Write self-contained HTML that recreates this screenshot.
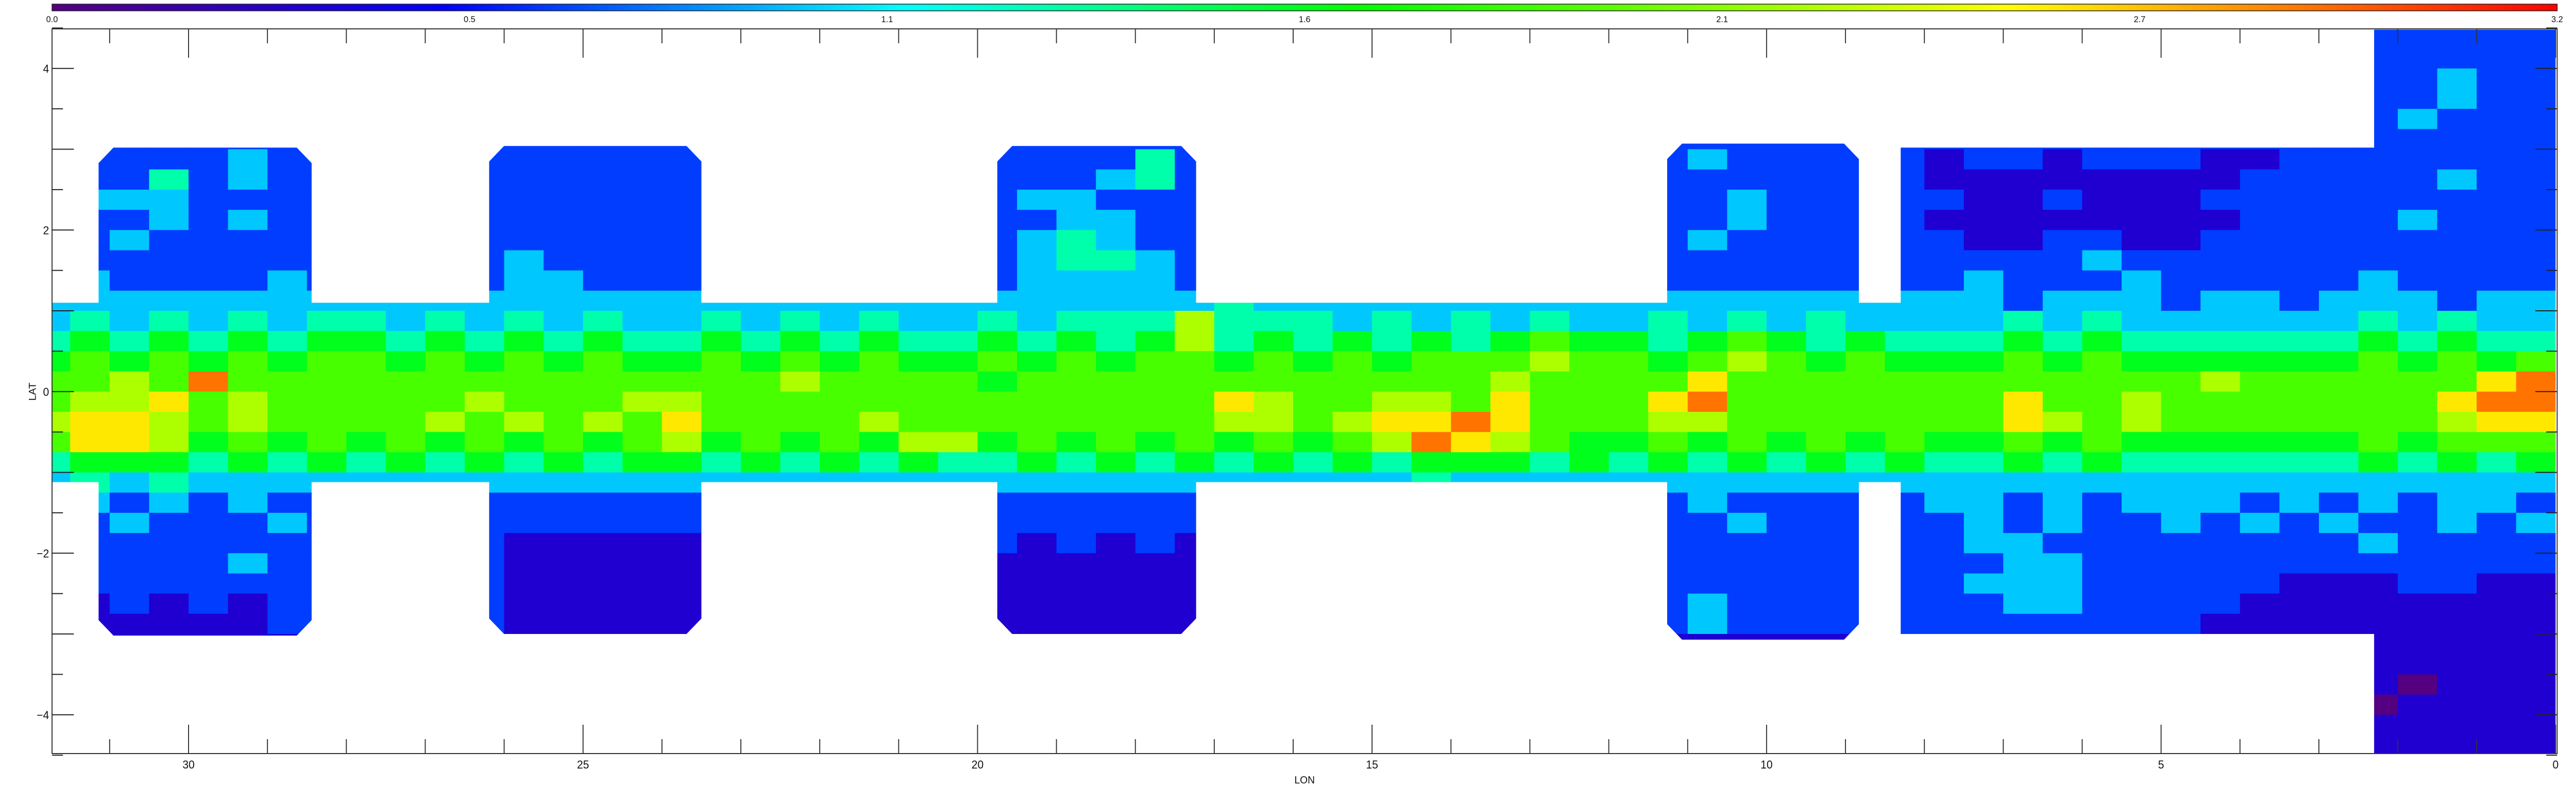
<!DOCTYPE html>
<html><head><meta charset="utf-8"><title>Extinction map LON/LAT</title>
<style>
html,body{margin:0;padding:0;background:#fff;overflow:hidden;width:100%;height:100%;}
svg{display:block;position:absolute;left:0;top:0;width:100vw;height:100vh;font-family:"Liberation Sans",sans-serif;}
</style></head>
<body>
<svg id="chart" viewBox="0 0 5197 1523" preserveAspectRatio="none" xmlns="http://www.w3.org/2000/svg">
<defs>
<linearGradient id="cbgrad" x1="0" x2="1" y1="0" y2="0"></linearGradient>
<clipPath id="footclip"></clipPath>
</defs>
<g id="colorbar"></g>
<g id="heat" clip-path="url(#footclip)"></g>
<g id="axes"></g>
</svg>
<script>
// ---- data ----
const cbTicks = ["0.0","0.5","1.1","1.6","2.1","2.7","3.2"];
const xTickLabels = [30,25,20,15,10,5,0];
const yTickLabels = [4,2,0,-2,-4];
const lonStart = 32, lonStep = 0.5;   // grid columns (lon decreasing to the right)
const latStart = 4.5, latStep = 0.25; // grid rows (lat decreasing downward)
const valueUnit = 0.32;               // digit -> extinction value
// survey footprints: [lonLeft, lonRight, latTop, latBottom]
const fields = [
 [31.73,0,1.1,-1.12],
 [31.14,28.44,3.02,-3.02],
 [26.19,23.5,3.04,-3.0],
 [19.75,17.23,3.04,-3.0],
 [11.26,8.83,3.07,-3.07],
 [8.3,2.3,3.02,-3.0],
 [2.3,0,4.48,-4.48]
];
const grid = [
"22222222 22222222 22222222 22222222 22222222 22222222 22222222 22222222",
"22222222 22222222 22222222 22222222 22222222 22222222 22222222 22222222",
"22222222 22222222 22222222 22222222 22222222 22222222 22222222 22222322",
"22222222 22222222 22222222 22222222 22222222 22222222 22222222 22222322",
"22222222 22222222 22222222 22222222 22222222 22222222 22222222 22223222",
"22222222 22222222 22222222 22222222 22222222 22222222 22222222 22222222",
"22222322 22222222 22222222 22224222 22222222 22322222 12212221 12222222",
"22242322 22222222 22222222 22234222 22222222 22222222 11111111 22222322",
"23332222 22222222 22222222 23322222 22222222 22232222 21121112 22222222",
"22232322 22222222 22222222 22332222 22222222 22232222 11111111 22223222",
"22322222 22222222 22222222 23432222 22222222 22322222 21122112 22222222",
"22222222 22223222 22222222 23443222 22222222 22222222 22223222 22222222",
"23222232 22223322 22222222 23333222 22222222 22222222 23222322 22232222",
"33333333 33333333 33333333 33333343 33333333 33333333 33233323 32333233",
"34343434 43434343 34343433 43444744 43434343 34343433 33434333 33343433",
"45454545 54545454 45454544 54545745 45454565 54565454 44545444 44454544",
"56565656 65656565 56565655 65656656 56566676 65676565 55656555 55565656",
"66769666 66666666 66676666 56666666 66666766 66866666 66666667 66666689",
"67786766 66676667 76666666 66666687 66776866 68966666 66866766 66666899",
"78876766 66767676 86666766 66666677 67889866 67766666 66876766 66666788",
"68875656 56565656 75656577 56565656 56798765 56565656 55656555 55565666",
"45554545 45454545 54545454 45454545 45455545 45454545 44545444 44454545",
"34343333 33333333 33333333 33333333 33343333 33333333 33333333 33333333",
"33232322 22222222 22222222 22222222 22222222 22322222 33232333 23232332",
"22322232 22222222 22222222 22222222 22222222 22232222 23232232 32322323",
"22222222 22221111 11222222 21212122 22222222 22222222 23322222 22232222",
"22222322 22221111 11222222 11111122 22222222 22222222 22332222 22222222",
"22222222 22221111 11222222 11111122 22222222 22222222 23332222 21112211",
"21212122 22221111 11222222 11111122 22222222 22322222 22332222 11111111",
"21111122 22221111 11222222 11111122 22222222 22322222 22222221 11111111",
"11111111 11111111 11111111 11111111 11111111 11111111 11111111 11111111",
"11111111 11111111 11111111 11111111 11111111 11111111 11111111 11111111",
"11111111 11111111 11111111 11111111 11111111 11111111 11111111 11110111",
"11111111 11111111 11111111 11111111 11111111 11111111 11111111 11101111",
"11111111 11111111 11111111 11111111 11111111 11111111 11111111 11111111",
"11111111 11111111 11111111 11111111 11111111 11111111 11111111 11111111"
];
// ---- geometry ----
const PL=105, PR=5159, PT=56, PB=1462;
const lonMax=31.73, lonMin=-0.02, latMax=4.49, latMin=-4.48;
function xScale(lon){return PL+(lonMax-lon)/(lonMax-lonMin)*(PR-PL);}
function yScale(lat){return PT+(latMax-lat)/(latMax-latMin)*(PB-PT);}
const stops=[[0,[85,0,128]],[0.156,[0,0,255]],[0.34,[0,255,255]],[0.52,[0,255,0]],[0.62,[90,255,0]],[0.78,[255,255,0]],[0.89,[255,128,0]],[1,[255,0,0]]];
function cmap(v){let t=Math.max(0,Math.min(1,v/3.2));
 for(let i=1;i<stops.length;i++){if(t<=stops[i][0]){const a=stops[i-1],b=stops[i];const f=(t-a[0])/(b[0]-a[0]);
  const c=a[1].map((x,k)=>Math.round(x+(b[1][k]-x)*f));return `rgb(${c[0]},${c[1]},${c[2]})`;}}
 return "rgb(255,0,0)";}
const NS="http://www.w3.org/2000/svg";
function mk(tag,attrs,parent){const e=document.createElementNS(NS,tag);for(const k in attrs)e.setAttribute(k,attrs[k]);parent.appendChild(e);return e;}
// clip footprints (octagonal fields)
const clip=document.getElementById('footclip');
fields.forEach((f,i)=>{
 const x1=xScale(f[0]),x2=xScale(f[1]),y1=yScale(f[2]),y2=yScale(f[3]);
 const c=(i===0||i>=5)?0:30;
 const p=mk('polygon',{points:`${x1+c},${y1} ${x2-c},${y1} ${x2},${y1+c} ${x2},${y2-c} ${x2-c},${y2} ${x1+c},${y2} ${x1},${y2-c} ${x1},${y1+c}`},clip);
 
 
});
// heat cells
const heat=document.getElementById('heat');
grid.forEach((row,r)=>{
 const s=row.replace(/ /g,'');
 for(let c=0;c<s.length;c++){
  const d=parseInt(s[c],10);
  const lon0=lonStart-c*lonStep, lat0=latStart-r*latStep;
  const x=xScale(lon0), y=yScale(lat0);
  const w=xScale(lon0-lonStep)-x, h=yScale(lat0-latStep)-y;
  const el=mk('rect',{x:x.toFixed(1),y:y.toFixed(1),width:(w+0.6).toFixed(1),height:(h+0.6).toFixed(1),fill:cmap(d*valueUnit)},heat);
  
  
 }
});
// colorbar
const grad=document.getElementById('cbgrad');
stops.forEach(s=>{mk('stop',{offset:s[0],'stop-color':`rgb(${s[1].join(',')})`},grad);});
const cb=document.getElementById('colorbar');
const cbr=mk('rect',{x:PL,y:8,width:PR-PL,height:13,fill:'url(#cbgrad)',stroke:'#222','stroke-width':1.5},cb);


cbTicks.forEach((t,i)=>{
 const x=PL+i*(PR-PL)/(cbTicks.length-1);
 const tx=mk('text',{x:x,y:43,'font-size':17,'text-anchor':'middle',fill:'#111'},cb);
 tx.textContent=t;
 
 
});
// axes
const ax=document.getElementById('axes');
const fr=mk('rect',{x:PL,y:PT,width:PR-PL,height:PB-PT,fill:'none',stroke:'#333','stroke-width':2},ax);


for(let lon=0;lon<=31;lon++){
 const x=xScale(lon), L=(lon%5===0)?56:28;
 const t1=mk('line',{x1:x,y1:PB,x2:x,y2:PB-L,stroke:'#333','stroke-width':2},ax);
 
 
 const t2=mk('line',{x1:x,y1:PT,x2:x,y2:PT+L,stroke:'#333','stroke-width':2},ax);
 
 
}
xTickLabels.forEach(v=>{
 const tx=mk('text',{x:xScale(v),y:1491,'font-size':22,'text-anchor':'middle',fill:'#111'},ax);
 tx.textContent=v;
 
 
});
for(let k=-9;k<=9;k++){
 const lat=k*0.5, y=yScale(lat), L=(k%2===0)?44:22;
 const t1=mk('line',{x1:PL,y1:y,x2:PL+L,y2:y,stroke:'#222','stroke-width':2},ax);
 
 
 const t2=mk('line',{x1:PR,y1:y,x2:PR-L,y2:y,stroke:'#222','stroke-width':2},ax);
 
 
}
yTickLabels.forEach(v=>{
 const tx=mk('text',{x:99,y:yScale(v)+8,'font-size':22,'text-anchor':'end',fill:'#111'},ax);
 tx.textContent=(v<0?'\u2212':'')+Math.abs(v);
 
 
});
const xl=mk('text',{x:(PL+PR)/2,y:1520,'font-size':20,'text-anchor':'middle',fill:'#111'},ax);
xl.textContent='LON';


const yl=mk('text',{x:0,y:0,'font-size':20,'text-anchor':'middle',fill:'#111',transform:`translate(72,${yScale(0)}) rotate(-90)`},ax);
yl.textContent='LAT';


</script>
</body></html>
